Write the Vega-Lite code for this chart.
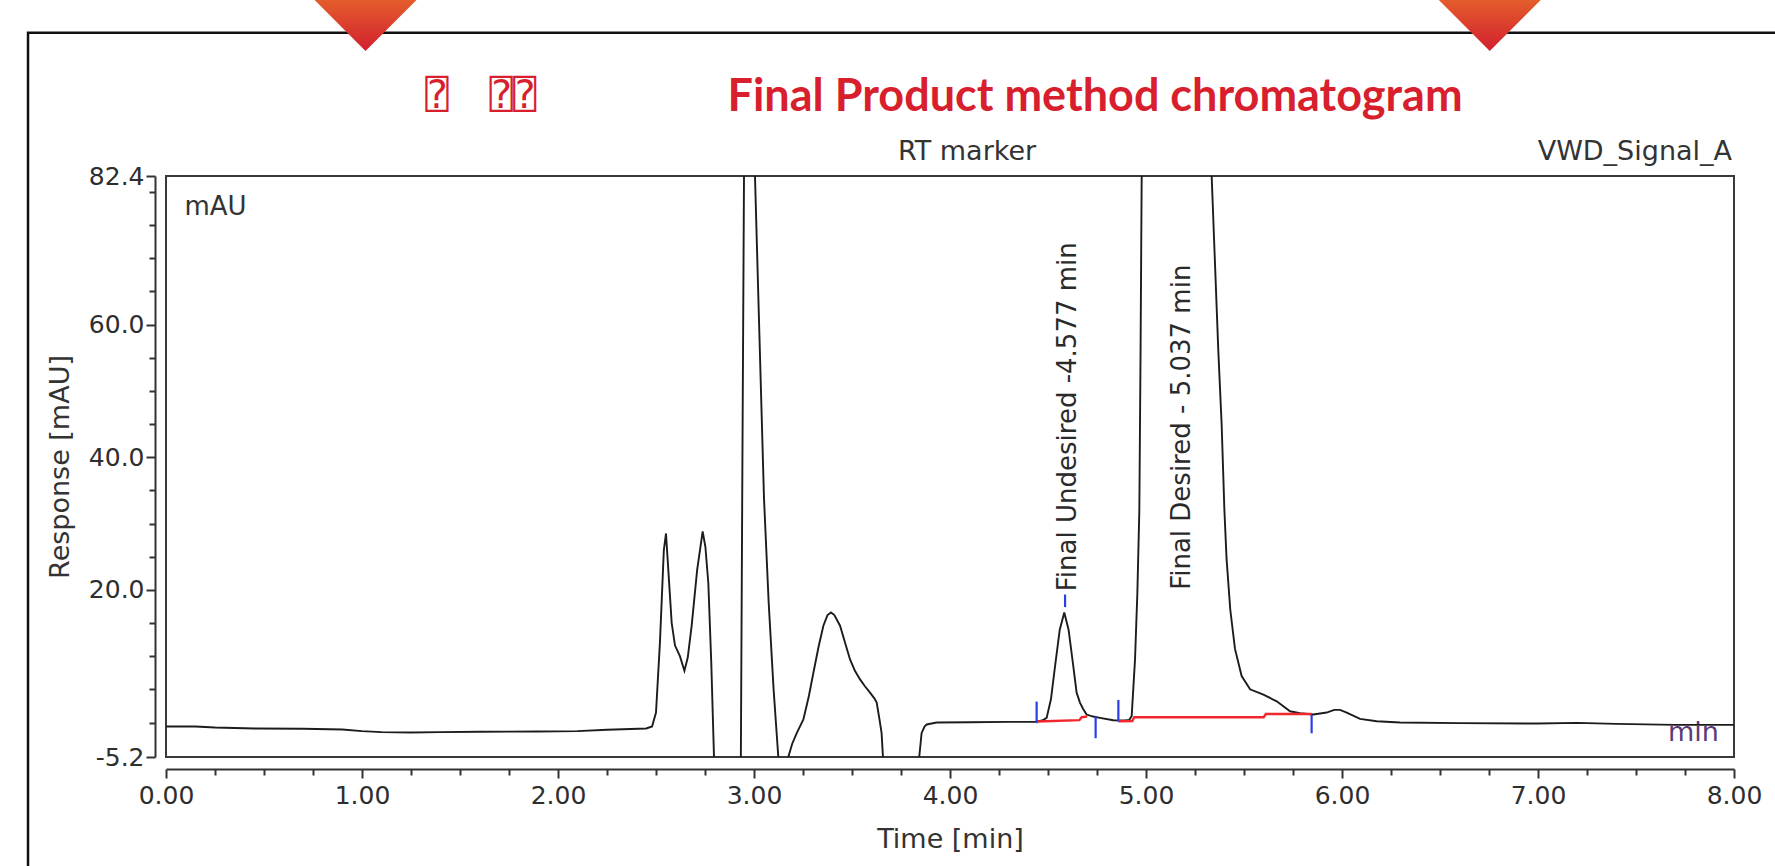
{
  "$schema": "https://vega.github.io/schema/vega-lite/v6.json",
  "width": 1568,
  "height": 581,
  "autosize": {"type": "none"},
  "padding": {"left": 166, "top": 176, "right": 41, "bottom": 109},
  "background": "white",
  "config": {
    "view": {"stroke": "#3a3a3a", "strokeWidth": 2},
    "font": "DejaVu Sans"
  },
  "datasets": {
    "trace": [
      {"t": 0.0, "v": -0.6}, {"t": 0.15, "v": -0.6}, {"t": 0.25, "v": -0.75}, {"t": 0.45, "v": -0.9},
      {"t": 0.7, "v": -0.95}, {"t": 0.9, "v": -1.05}, {"t": 1.0, "v": -1.3}, {"t": 1.1, "v": -1.45},
      {"t": 1.25, "v": -1.5}, {"t": 1.4, "v": -1.45}, {"t": 1.6, "v": -1.4}, {"t": 1.9, "v": -1.35},
      {"t": 2.1, "v": -1.3}, {"t": 2.25, "v": -1.1}, {"t": 2.45, "v": -0.9}, {"t": 2.48, "v": -0.6},
      {"t": 2.5, "v": 1.5}, {"t": 2.52, "v": 12}, {"t": 2.54, "v": 26}, {"t": 2.551, "v": 28.5},
      {"t": 2.565, "v": 22}, {"t": 2.58, "v": 15}, {"t": 2.597, "v": 11.6}, {"t": 2.622, "v": 10.0},
      {"t": 2.645, "v": 7.8}, {"t": 2.662, "v": 9.8}, {"t": 2.682, "v": 14.6}, {"t": 2.71, "v": 23},
      {"t": 2.738, "v": 28.8}, {"t": 2.752, "v": 26.5}, {"t": 2.767, "v": 21}, {"t": 2.782, "v": 9},
      {"t": 2.796, "v": -5.2}, {"t": 2.81, "v": -12}, {"t": 2.92, "v": -12}, {"t": 2.933, "v": -5.2},
      {"t": 2.941, "v": 40}, {"t": 2.949, "v": 82.4}, {"t": 2.975, "v": 130}, {"t": 3.005, "v": 82.4},
      {"t": 3.028, "v": 58}, {"t": 3.051, "v": 33.8}, {"t": 3.075, "v": 18}, {"t": 3.1, "v": 5},
      {"t": 3.124, "v": -5.2}, {"t": 3.14, "v": -12}, {"t": 3.16, "v": -12}, {"t": 3.175, "v": -5.2},
      {"t": 3.195, "v": -3.2}, {"t": 3.218, "v": -1.6}, {"t": 3.252, "v": 0.45}, {"t": 3.28, "v": 4},
      {"t": 3.303, "v": 7.5}, {"t": 3.33, "v": 11.5}, {"t": 3.354, "v": 14.6}, {"t": 3.375, "v": 16.2},
      {"t": 3.393, "v": 16.6}, {"t": 3.41, "v": 16.2}, {"t": 3.439, "v": 14.6}, {"t": 3.465, "v": 12},
      {"t": 3.49, "v": 9.5}, {"t": 3.515, "v": 7.8}, {"t": 3.541, "v": 6.5}, {"t": 3.565, "v": 5.5},
      {"t": 3.592, "v": 4.5}, {"t": 3.615, "v": 3.6}, {"t": 3.626, "v": 3.0}, {"t": 3.64, "v": 0.5},
      {"t": 3.651, "v": -1.6}, {"t": 3.658, "v": -5.2}, {"t": 3.67, "v": -12}, {"t": 3.83, "v": -12},
      {"t": 3.843, "v": -5.2}, {"t": 3.855, "v": -1.6}, {"t": 3.87, "v": -0.6}, {"t": 3.881, "v": -0.3},
      {"t": 3.932, "v": 0.0}, {"t": 4.1, "v": 0.05}, {"t": 4.3, "v": 0.1}, {"t": 4.434, "v": 0.1},
      {"t": 4.47, "v": 0.3}, {"t": 4.493, "v": 0.7}, {"t": 4.515, "v": 3.5}, {"t": 4.536, "v": 8.5},
      {"t": 4.56, "v": 14}, {"t": 4.583, "v": 16.6}, {"t": 4.605, "v": 14}, {"t": 4.629, "v": 8.5},
      {"t": 4.646, "v": 4.5}, {"t": 4.663, "v": 3.0}, {"t": 4.68, "v": 2.0}, {"t": 4.697, "v": 1.2},
      {"t": 4.73, "v": 0.9}, {"t": 4.765, "v": 0.7}, {"t": 4.833, "v": 0.35}, {"t": 4.893, "v": 0.3},
      {"t": 4.915, "v": 0.4}, {"t": 4.927, "v": 1.0}, {"t": 4.944, "v": 9.5}, {"t": 4.956, "v": 19.6},
      {"t": 4.966, "v": 32}, {"t": 4.972, "v": 55}, {"t": 4.978, "v": 82.4}, {"t": 5.0, "v": 140},
      {"t": 5.15, "v": 200}, {"t": 5.31, "v": 140}, {"t": 5.335, "v": 82.4}, {"t": 5.369, "v": 56},
      {"t": 5.386, "v": 44.9}, {"t": 5.4, "v": 32}, {"t": 5.411, "v": 24.7}, {"t": 5.43, "v": 17},
      {"t": 5.454, "v": 11.1}, {"t": 5.488, "v": 7.0}, {"t": 5.531, "v": 5.0}, {"t": 5.599, "v": 4.2},
      {"t": 5.667, "v": 3.2}, {"t": 5.735, "v": 1.7}, {"t": 5.786, "v": 1.4}, {"t": 5.854, "v": 1.2},
      {"t": 5.922, "v": 1.5}, {"t": 5.96, "v": 1.9}, {"t": 5.99, "v": 1.9}, {"t": 6.024, "v": 1.5},
      {"t": 6.092, "v": 0.55}, {"t": 6.177, "v": 0.2}, {"t": 6.296, "v": 0.0}, {"t": 6.6, "v": -0.1},
      {"t": 7.0, "v": -0.15}, {"t": 7.2, "v": -0.05}, {"t": 7.4, "v": -0.2}, {"t": 7.7, "v": -0.35},
      {"t": 8.0, "v": -0.35}
    ],
    "integration": [
      {"seg": "A", "t": 4.445, "v": 0.16}, {"seg": "A", "t": 4.66, "v": 0.35},
      {"seg": "A", "t": 4.672, "v": 0.8}, {"seg": "A", "t": 4.70, "v": 0.9},
      {"seg": "B", "t": 4.86, "v": 0.2}, {"seg": "B", "t": 4.93, "v": 0.23},
      {"seg": "B", "t": 4.94, "v": 0.79}, {"seg": "B", "t": 5.6, "v": 0.79},
      {"seg": "B", "t": 5.612, "v": 1.29}, {"seg": "B", "t": 5.845, "v": 1.29}
    ],
    "markers": [
      {"t": 4.442, "v": -0.1, "v2": 3.15},
      {"t": 4.743, "v": -2.37, "v2": 0.88},
      {"t": 4.859, "v": 0.13, "v2": 3.4},
      {"t": 5.845, "v": -1.62, "v2": 1.14},
      {"t": 4.587, "v": 17.4, "v2": 19.3}
    ],
    "peaks": [
      {"t": 4.604, "v": 19.8, "label": "Final Undesired -4.577 min"},
      {"t": 5.186, "v": 20.0, "label": "Final Desired - 5.037 min"}
    ],
    "notes": [
      {"t": 4.087, "v": 86.0, "label": "RT marker"},
      {"t": 7.99, "v": 86.0, "label": "VWD_Signal_A"},
      {"t": 0.094, "v": 77.7, "label": "mAU"},
      {"t": 7.663, "v": -1.57, "label": "min"}
    ],
    "heading": [
      {"t": 4.74, "v": 92.2, "label": "Final Product method chromatogram"}
    ],
    "glyphs": [
      {"t": 1.383, "v": 94.4, "label": "⍰"},
      {"t": 1.77, "v": 94.4, "label": "⍰⍰"}
    ],
    "tabs": [
      {"t": 1.018, "v": 101.25},
      {"t": 6.754, "v": 101.25}
    ],
    "frame": [
      {"t": -0.704, "t2": 8.4, "v": 104.0, "v2": -24}
    ]
  },
  "encoding": {
    "x": {
      "field": "t",
      "type": "quantitative",
      "scale": {"domain": [0, 8], "nice": false, "zero": false},
      "axis": {
        "title": "Time [min]",
        "values": [0, 0.25, 0.5, 0.75, 1, 1.25, 1.5, 1.75, 2, 2.25, 2.5, 2.75, 3, 3.25, 3.5, 3.75, 4, 4.25, 4.5, 4.75, 5, 5.25, 5.5, 5.75, 6, 6.25, 6.5, 6.75, 7, 7.25, 7.5, 7.75, 8],
        "labelExpr": "datum.value % 1 === 0 ? format(datum.value, '.2f') : ''",
        "tickSize": {"condition": {"test": "datum.value % 1 === 0", "value": 9}, "value": 6},
        "offset": 12,
        "grid": false,
        "labelFlush": false,
        "labelOverlap": false,
        "domainColor": "#333333",
        "domainWidth": 2,
        "tickColor": "#333333",
        "tickWidth": 2,
        "labelFont": "DejaVu Sans",
        "labelFontSize": 25,
        "labelColor": "#2e2e2e",
        "labelPadding": 5,
        "titleFont": "DejaVu Sans",
        "titleFontSize": 27,
        "titleFontWeight": "normal",
        "titleColor": "#333333",
        "titlePadding": 18
      }
    },
    "y": {
      "field": "v",
      "type": "quantitative",
      "scale": {"domain": [-5.2, 82.4], "nice": false, "zero": false},
      "axis": {
        "title": "Response [mAU]",
        "values": [-5.2, 0, 5, 10, 15, 20, 25, 30, 35, 40, 45, 50, 55, 60, 65, 70, 75, 80, 82.4],
        "labelExpr": "indexof([-5.2, 20, 40, 60, 82.4], datum.value) >= 0 ? replace(format(datum.value, '.1f'), '\u2212', '-') : ''",
        "tickSize": {"condition": {"test": "indexof([-5.2, 20, 40, 60, 82.4], datum.value) >= 0", "value": 9}, "value": 6},
        "offset": 11,
        "grid": false,
        "labelOverlap": false,
        "labelFlush": false,
        "domainColor": "#333333",
        "domainWidth": 2,
        "tickColor": "#333333",
        "tickWidth": 2,
        "labelFont": "DejaVu Sans",
        "labelFontSize": 25,
        "labelColor": "#2e2e2e",
        "labelPadding": 2,
        "titleFont": "DejaVu Sans",
        "titleFontSize": 27,
        "titleFontWeight": "normal",
        "titleColor": "#333333",
        "titlePadding": 14
      }
    }
  },
  "layer": [
    {
      "data": {"name": "frame"},
      "mark": {"type": "rect", "fill": null, "fillOpacity": 0, "stroke": "#111111", "strokeWidth": 2.5, "clip": false},
      "encoding": {"x2": {"field": "t2"}, "y2": {"field": "v2"}}
    },
    {
      "data": {"name": "tabs"},
      "mark": {
        "type": "point",
        "shape": "M-1,-1L1,-1L0,0Z",
        "size": 10404,
        "filled": true,
        "opacity": 1,
        "strokeWidth": 0,
        "clip": false,
        "fill": {
          "gradient": "linear", "x1": 0, "y1": 0, "x2": 0, "y2": 1,
          "stops": [{"offset": 0, "color": "#e35d2b"}, {"offset": 1, "color": "#d21f2f"}]
        }
      }
    },
    {
      "data": {"name": "trace"},
      "mark": {"type": "line", "color": "#1c1c1c", "strokeWidth": 1.9, "clip": true, "interpolate": "linear"}
    },
    {
      "data": {"name": "integration"},
      "mark": {"type": "line", "color": "#f2262c", "strokeWidth": 2.4, "clip": true},
      "encoding": {"detail": {"field": "seg"}}
    },
    {
      "data": {"name": "markers"},
      "mark": {"type": "rule", "color": "#2a3ee6", "strokeWidth": 2.2, "clip": true},
      "encoding": {"y2": {"field": "v2"}}
    },
    {
      "data": {"name": "peaks"},
      "mark": {"type": "text", "angle": 270, "align": "left", "baseline": "middle", "font": "DejaVu Sans", "fontSize": 26, "color": "#2a2a2a", "clip": false},
      "encoding": {"text": {"field": "label"}}
    },
    {
      "data": {"name": "notes"},
      "transform": [{"filter": "datum.label === 'RT marker'"}],
      "mark": {"type": "text", "align": "center", "baseline": "middle", "font": "DejaVu Sans", "fontSize": 27, "color": "#333333", "clip": false},
      "encoding": {"text": {"field": "label"}}
    },
    {
      "data": {"name": "notes"},
      "transform": [{"filter": "datum.label === 'VWD_Signal_A'"}],
      "mark": {"type": "text", "align": "right", "baseline": "middle", "font": "DejaVu Sans", "fontSize": 27, "color": "#333333", "clip": false},
      "encoding": {"text": {"field": "label"}}
    },
    {
      "data": {"name": "notes"},
      "transform": [{"filter": "datum.label === 'mAU'"}],
      "mark": {"type": "text", "align": "left", "baseline": "middle", "font": "DejaVu Sans", "fontSize": 26, "color": "#333333", "clip": false},
      "encoding": {"text": {"field": "label"}}
    },
    {
      "data": {"name": "notes"},
      "transform": [{"filter": "datum.label === 'min'"}],
      "mark": {"type": "text", "align": "left", "baseline": "middle", "font": "DejaVu Sans", "fontSize": 27, "color": "#5b3a7a", "clip": false},
      "encoding": {"text": {"field": "label"}}
    },
    {
      "data": {"name": "heading"},
      "mark": {"type": "text", "align": "center", "baseline": "alphabetic", "font": "Lato", "fontWeight": "bold", "fontSize": 45, "color": "#d71f2e", "clip": false},
      "encoding": {"text": {"field": "label"}}
    },
    {
      "data": {"name": "glyphs"},
      "mark": {"type": "text", "align": "center", "baseline": "middle", "font": "DejaVu Sans Mono", "fontSize": 39, "color": "#d71f2e", "clip": false},
      "encoding": {"text": {"field": "label"}}
    }
  ]
}
